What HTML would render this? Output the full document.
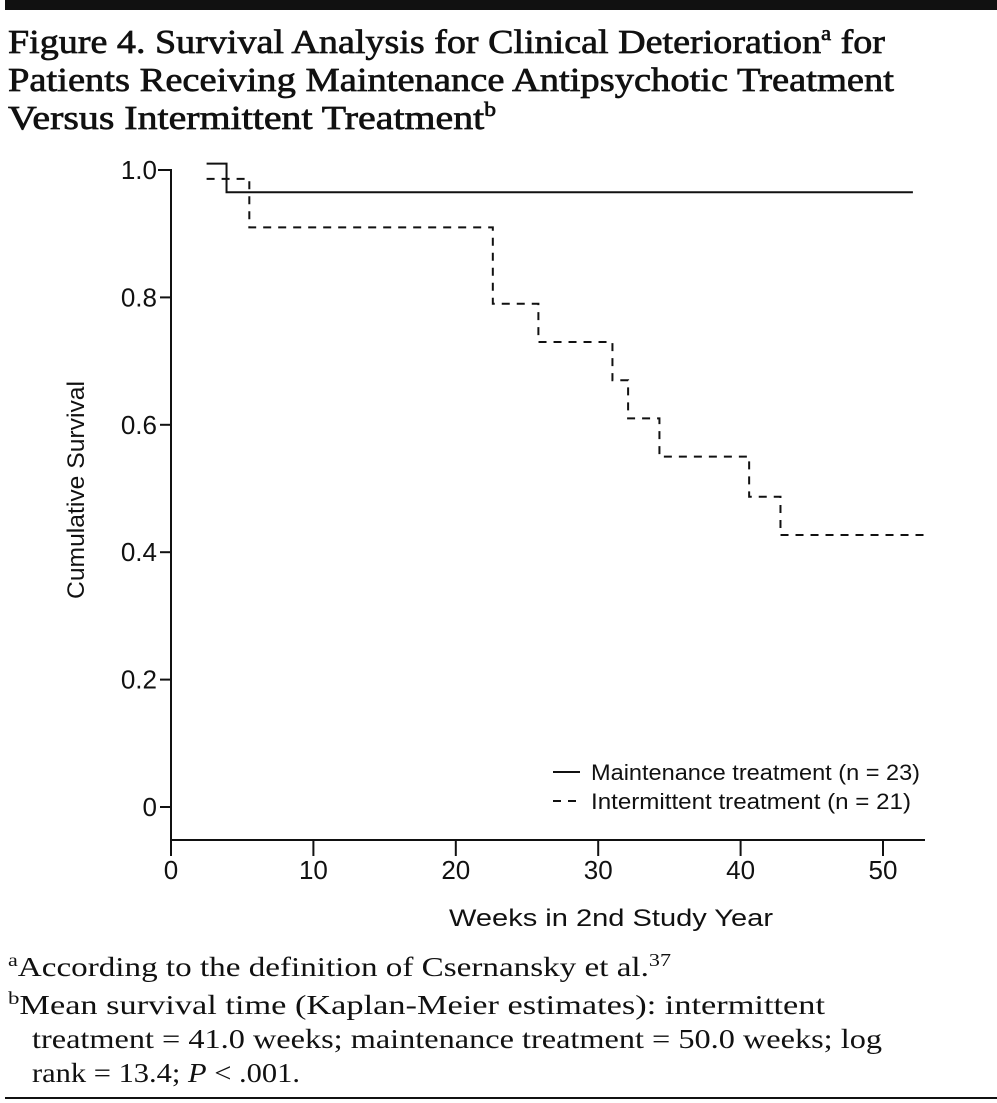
<!DOCTYPE html>
<html><head><meta charset="utf-8"><style>
html,body{margin:0;padding:0;background:#fff;}
svg{display:block;}
.t{font-family:"Liberation Serif",serif;font-size:34px;fill:#111;stroke:#111;stroke-width:0.7px;}
.f{font-family:"Liberation Serif",serif;font-size:27px;fill:#111;}
.s{font-family:"Liberation Sans",sans-serif;fill:#111;}
</style></head><body>
<svg id="chart" width="997" height="1103" viewBox="0 0 997 1103" xmlns="http://www.w3.org/2000/svg">
<rect x="5" y="0" width="992" height="10" fill="#111"/>
<g>
<text class="t" x="8" y="53" textLength="877" lengthAdjust="spacingAndGlyphs">Figure 4. Survival Analysis for Clinical Deterioration<tspan style="font-size:20px" dy="-13">a</tspan><tspan dy="13"> for</tspan></text>
<text class="t" x="8" y="91" textLength="886" lengthAdjust="spacingAndGlyphs">Patients Receiving Maintenance Antipsychotic Treatment</text>
<text class="t" x="8" y="129" textLength="488" lengthAdjust="spacingAndGlyphs">Versus Intermittent Treatment<tspan style="font-size:20px" dy="-13">b</tspan></text>
</g>
<g id="axes"></g>
<g id="marks"></g>
<g>
<line x1="553" y1="772" x2="580" y2="772" stroke="#111" stroke-width="2"/>
<text class="s" style="font-size:22px" x="591" y="780" textLength="329" lengthAdjust="spacingAndGlyphs">Maintenance treatment (n = 23)</text>
<line x1="553" y1="801" x2="580" y2="801" stroke="#111" stroke-width="2" stroke-dasharray="8,7"/>
<text class="s" style="font-size:22px" x="591" y="809" textLength="320" lengthAdjust="spacingAndGlyphs">Intermittent treatment (n = 21)</text>
</g>
<text class="s" style="font-size:24px" x="611" y="926" text-anchor="middle" textLength="324" lengthAdjust="spacingAndGlyphs">Weeks in 2nd Study Year</text>
<text class="s" style="font-size:24px" transform="translate(84,490) rotate(-90)" text-anchor="middle" textLength="218" lengthAdjust="spacingAndGlyphs">Cumulative Survival</text>
<g>
<text class="f" x="8" y="976" textLength="663" lengthAdjust="spacingAndGlyphs"><tspan style="font-size:18px" dy="-10">a</tspan><tspan dy="10">According to the definition of Csernansky et al.</tspan><tspan style="font-size:18px" dy="-10">37</tspan></text>
<text class="f" x="8" y="1014" textLength="817" lengthAdjust="spacingAndGlyphs"><tspan style="font-size:18px" dy="-10">b</tspan><tspan dy="10">Mean survival time (Kaplan-Meier estimates): intermittent</tspan></text>
<text class="f" x="32" y="1048" textLength="850" lengthAdjust="spacingAndGlyphs">treatment = 41.0 weeks; maintenance treatment = 50.0 weeks; log</text>
<text class="f" x="32" y="1082" textLength="268" lengthAdjust="spacingAndGlyphs">rank = 13.4; <tspan font-style="italic">P</tspan> &lt; .001.</text>
</g>
<rect x="5" y="1097" width="992" height="2" fill="#111"/>
</svg>
<script>
const xTicks=[0,10,20,30,40,50];
const yTicks=[0,0.2,0.4,0.6,0.8,1.0];
const yTickLabels=["0","0.2","0.4","0.6","0.8","1.0"];
const maintTimes=[2.5,3.9,52.1];
const maintSurv=[1.01,0.965,0.965];
const interTimes=[2.5,5.5,22.6,25.8,31.0,32.1,34.3,40.6,42.8,53];
const interSurv=[0.986,0.91,0.79,0.73,0.67,0.61,0.55,0.487,0.427,0.427];
const NS="http://www.w3.org/2000/svg";
const X=v=>171+v*14.24, Y=v=>807-v*637;
const axes=document.getElementById('axes'), marks=document.getElementById('marks');
function mk(tag,attrs,parent){const e=document.createElementNS(NS,tag);for(const k in attrs)e.setAttribute(k,attrs[k]);parent.appendChild(e);return e;}
let e=mk('path',{d:`M158 170 H171 V840 H925`,fill:'none',stroke:'#111','stroke-width':2},axes);


xTicks.forEach(t=>{
 let l=mk('line',{x1:X(t),x2:X(t),y1:840,y2:856,stroke:'#111','stroke-width':2},axes);
 
 
 let tx=mk('text',{x:X(t),y:879,'text-anchor':'middle',class:'s',style:'font-size:26px'},axes);
 
 
 tx.textContent=t;
});
yTicks.forEach((t,i)=>{
 let l=mk('line',{x1:160,x2:171,y1:Y(t),y2:Y(t),stroke:'#111','stroke-width':2},axes);
 
 
 let tx=mk('text',{x:157,y:Y(t)+9,'text-anchor':'end',class:'s',style:'font-size:26px'},axes);
 
 
 tx.textContent=yTickLabels[i];
});
function step(ts,ss){let d=`M${X(ts[0])} ${Y(ss[0])}`;for(let i=1;i<ts.length;i++){d+=` H${X(ts[i])} V${Y(ss[i])}`;}return d;}
let m=mk('path',{d:step(maintTimes,maintSurv),fill:'none',stroke:'#111','stroke-width':2},marks);


let n=mk('path',{d:step(interTimes,interSurv),fill:'none',stroke:'#111','stroke-width':2,'stroke-dasharray':'8,7'},marks);


</script>
</body></html>
